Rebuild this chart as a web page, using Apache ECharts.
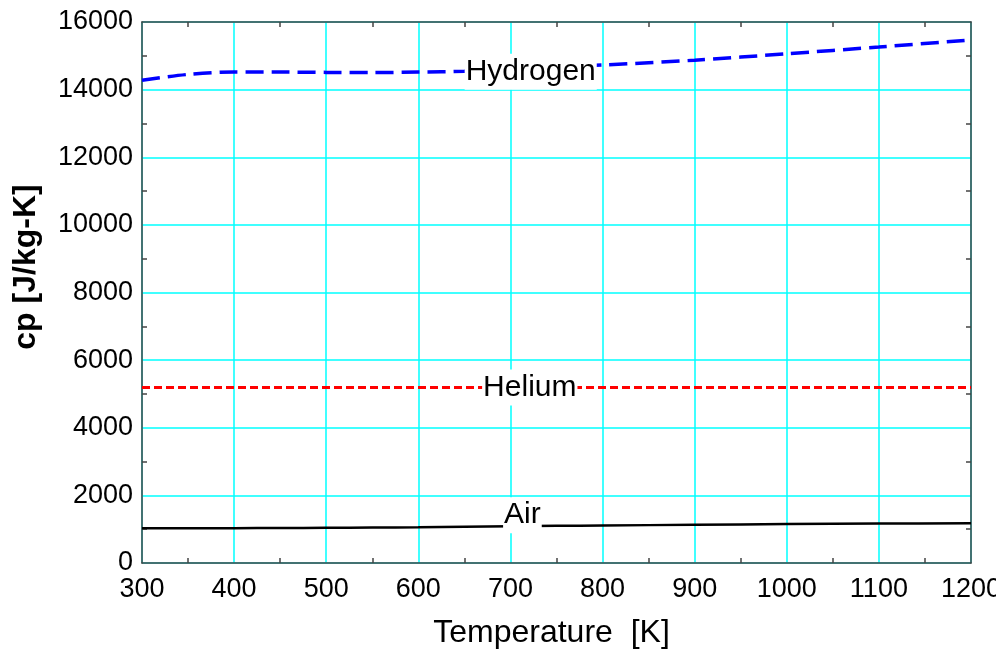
<!DOCTYPE html>
<html>
<head>
<meta charset="utf-8">
<script src="https://cdn.jsdelivr.net/npm/echarts@6/dist/echarts.min.js"></script>
<style>html,body{margin:0;padding:0;background:#fff}#c{width:996px;height:653px}</style>
</head>
<body>
<div id="c"></div>
<script>
const temperatures = [300, 350, 400, 450, 500, 550, 600, 650, 700, 750, 800, 900, 1000, 1100, 1200];
const hydrogen = [14280, 14450, 14520, 14520, 14510, 14505, 14520, 14545, 14620, 14680, 14730, 14870, 15060, 15260, 15470];
const helium = [5193, 5193, 5193, 5193, 5193, 5193, 5193, 5193, 5193, 5193, 5193, 5193, 5193, 5193, 5193];
const air = [1025, 1025, 1030, 1035, 1040, 1048, 1056, 1070, 1085, 1098, 1110, 1130, 1150, 1165, 1175];
const seriesNames = ['Hydrogen', 'Helium', 'Air'];
const labelAt = [[722, 14620], [721, 5193], [713, 1088]];
const xTicks = [300, 1200, 100];
const yTicks = [0, 16000, 2000];

const font = 'Liberation Sans, Arial, sans-serif';
const frame = '#444';
const pair = (xs, ys) => xs.map((x, i) => [x, ys[i]]);
const plain = v => String(v);

function lbl(name, pos, offset) {
  return {
    symbol: 'circle', symbolSize: 1, itemStyle: {color: 'rgba(0,0,0,0)'},
    data: [{coord: pos}],
    label: {show: true, position: 'inside', offset: offset, formatter: name,
      color: '#000', fontFamily: font, fontSize: 30, backgroundColor: '#fff',
      padding: [2, 1, 2, 1], lineHeight: 32}
  };
}

const minor = {show: true, splitNumber: 2, length: 5, lineStyle: {color: frame, width: 1.5}};
const chart = echarts.init(document.getElementById('c'));
chart.setOption({
  animation: false,
  backgroundColor: '#fff',
  grid: {left: 142, right: 25, top: 22, bottom: 90, containLabel: false, outerBoundsMode: 'none'},
  xAxis: [{
    type: 'value', min: xTicks[0], max: xTicks[1], interval: xTicks[2], position: 'bottom',
    axisLine: {show: true, lineStyle: {color: frame, width: 1.5}},
    axisTick: {show: false, inside: true}, minorTick: minor,
    splitLine: {show: true, lineStyle: {color: '#00ffff', width: 1.5}},
    axisLabel: {color: '#000', fontFamily: font, fontSize: 27, margin: 13, formatter: plain, hideOverlap: false},
    name: 'Temperature  [K]', nameLocation: 'middle', nameGap: 54,
    nameTextStyle: {color: '#000', fontFamily: font, fontSize: 32, padding: [0, 10, 0, 0]}
  }, {
    type: 'value', min: xTicks[0], max: xTicks[1], interval: xTicks[2], position: 'top',
    axisLine: {show: true, onZero: false, lineStyle: {color: frame, width: 1.5}},
    axisTick: {show: false, inside: true}, minorTick: minor,
    splitLine: {show: false}, axisLabel: {show: false}
  }],
  yAxis: [{
    type: 'value', min: yTicks[0], max: yTicks[1], interval: yTicks[2], position: 'left',
    axisLine: {show: true, lineStyle: {color: frame, width: 1.5}},
    axisTick: {show: false, inside: true}, minorTick: minor,
    splitLine: {show: true, lineStyle: {color: '#00ffff', width: 1.5}},
    axisLabel: {color: '#000', fontFamily: font, fontSize: 27, margin: 9, padding: [0, 0, 6, 0], formatter: plain}
  }, {
    type: 'value', min: yTicks[0], max: yTicks[1], interval: yTicks[2], position: 'right',
    axisLine: {show: true, onZero: false, lineStyle: {color: frame, width: 1.5}},
    axisTick: {show: false, inside: true}, minorTick: minor,
    splitLine: {show: false}, axisLabel: {show: false}
  }],
  graphic: [{
    type: 'text', x: 26, y: 267, rotation: Math.PI / 2,
    style: {text: 'cp [J/kg-K]', fill: '#000', font: 'bold 32px ' + font, align: 'center', verticalAlign: 'middle'}
  }],
  series: [{
    name: seriesNames[0], type: 'line', data: pair(temperatures, hydrogen), showSymbol: false, smooth: 0.3,
    lineStyle: {color: '#0000ff', width: 3.5, type: [18, 8]}, z: 3,
    markPoint: lbl(seriesNames[0], labelAt[0], [0, 3])
  }, {
    name: seriesNames[1], type: 'line', data: pair(temperatures, helium), showSymbol: false,
    lineStyle: {color: '#ff0000', width: 3, type: [8, 4]}, z: 3,
    markPoint: lbl(seriesNames[1], labelAt[1], [0, 0])
  }, {
    name: seriesNames[2], type: 'line', data: pair(temperatures, air), showSymbol: false, smooth: 0.3,
    lineStyle: {color: '#000', width: 2.5}, z: 3,
    markPoint: lbl(seriesNames[2], labelAt[2], [0, -11])
  }]
});
</script>
</body>
</html>
